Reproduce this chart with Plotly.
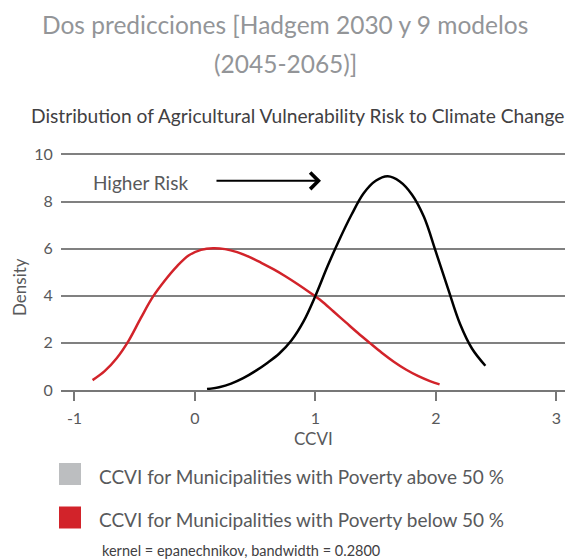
import plotly.graph_objects as go

# ---- data ----
red_x = [-0.85, -0.75, -0.65, -0.55, -0.45, -0.35, -0.25, -0.15, -0.05, 0.05, 0.15, 0.25, 0.35,
         0.45, 0.55, 0.65, 0.75, 0.85, 0.95, 1.05, 1.15, 1.25, 1.35, 1.45, 1.55, 1.65, 1.75,
         1.85, 1.95, 2.03]
red_y = [0.42, 0.8, 1.35, 2.1, 3.05, 3.95, 4.65, 5.25, 5.72, 5.95, 6.02, 5.98, 5.85,
         5.65, 5.4, 5.13, 4.83, 4.5, 4.15, 3.78, 3.33, 2.88, 2.43, 2.0, 1.58, 1.2, 0.87,
         0.6, 0.38, 0.24]

black_x = [0.1, 0.2, 0.3, 0.4, 0.5, 0.6, 0.7, 0.8, 0.9, 1.0, 1.1, 1.2, 1.3, 1.4, 1.5, 1.6,
           1.7, 1.8, 1.9, 2.0, 2.1, 2.2, 2.3, 2.41]
black_y = [0.04, 0.12, 0.27, 0.5, 0.8, 1.15, 1.55, 2.1, 2.9, 4.0, 5.25, 6.4, 7.45, 8.35, 8.88, 9.07,
           8.85, 8.3, 7.35, 5.85, 4.3, 2.8, 1.75, 1.03]

x_ticks = [-1, 0, 1, 2, 3]
x_tick_text = ["-1", "0", "1", "2", "3"]
y_ticks = [0, 2, 4, 6, 8, 10]

legend_labels = ["CCVI for Municipalities with Poverty above 50 %",
                 "CCVI for Municipalities with Poverty below 50 %"]
legend_colors = ["#bcbec0", "#d2232a"]

title_lines = ["Dos predicciones [Hadgem 2030 y 9 modelos", "(2045-2065)]"]
subtitle = "Distribution of Agricultural Vulnerability Risk to Climate Change"
note = "kernel = epanechnikov, bandwidth = 0.2800"

FONT = "Lato"
W, H = 567, 560
L, R, T, B = 61, 2, 153, 170
PW, PH = W - L - R, H - T - B


def px(x):
    return (x - L) / PW


def py(y):
    return (H - B - y) / PH


fig = go.Figure()
fig.add_trace(go.Scatter(x=red_x, y=red_y, mode="lines", line=dict(color="#d2232a", width=2.5, shape="spline"),
                         showlegend=False, hoverinfo="skip"))
fig.add_trace(go.Scatter(x=black_x, y=black_y, mode="lines", line=dict(color="#000000", width=2.5, shape="spline"),
                         showlegend=False, hoverinfo="skip"))

annotations = []
# titles
for txt, yc in zip(title_lines, [25, 63]):
    annotations.append(dict(text=txt, x=px(285), y=py(yc), xref="paper", yref="paper",
                            showarrow=False, xanchor="center", yanchor="middle",
                            font=dict(family=FONT, size=24.5, color="#939598")))
annotations.append(dict(text=subtitle, x=px(29), y=py(115), xref="paper", yref="paper",
                        showarrow=False, xanchor="left", yanchor="middle",
                        font=dict(family=FONT, size=19.2, color="#414042")))
# axis titles
annotations.append(dict(text="Density", x=px(19), y=py(287), xref="paper", yref="paper",
                        showarrow=False, xanchor="center", yanchor="middle", textangle=-90,
                        font=dict(family=FONT, size=17, color="#58595b")))
annotations.append(dict(text="CCVI", x=px(313), y=py(438), xref="paper", yref="paper",
                        showarrow=False, xanchor="center", yanchor="middle",
                        font=dict(family=FONT, size=17, color="#58595b")))
# Higher risk annotation + arrow
annotations.append(dict(text="Higher Risk", x=-0.452, y=8.8, xref="x", yref="y",
                        showarrow=False, xanchor="center", yanchor="middle",
                        font=dict(family=FONT, size=19, color="#58595b")))
annotations.append(dict(text="", x=1.046, y=8.88, ax=0.166, ay=8.88, xref="x", yref="y",
                        axref="x", ayref="y", showarrow=True, arrowhead=4, arrowwidth=2,
                        arrowsize=1.6, arrowcolor="#000000", standoff=0))
# legend
shapes = []
for i, (lab, col) in enumerate(zip(legend_labels, legend_colors)):
    yc = 474 + i * 43.5
    shapes.append(dict(type="rect", xref="paper", yref="paper", x0=px(59), x1=px(81),
                       y0=py(yc + 11), y1=py(yc - 11), fillcolor=col, line=dict(width=0)))
    annotations.append(dict(text=lab, x=px(97), y=py(yc + 2), xref="paper", yref="paper",
                            showarrow=False, xanchor="left", yanchor="middle",
                            font=dict(family=FONT, size=19, color="#58595b")))
annotations.append(dict(text=note, x=px(100), y=py(550), xref="paper", yref="paper",
                        showarrow=False, xanchor="left", yanchor="middle",
                        font=dict(family=FONT, size=14.5, color="#414042")))

fig.update_layout(
    width=W, height=H,
    margin=dict(l=L, r=R, t=T, b=B),
    paper_bgcolor="white", plot_bgcolor="white",
    showlegend=False,
    annotations=annotations,
    shapes=shapes,
    font=dict(family=FONT, color="#58595b"),
)
fig.update_xaxes(range=[-1.112, 3.071], tickvals=x_ticks, ticktext=x_tick_text, ticks="outside", ticklen=9,
                 tickcolor="#777777", tickwidth=1.5, showgrid=False, zeroline=False,
                 showline=True, linecolor="#777777", linewidth=1.5,
                 tickfont=dict(family=FONT, size=16, color="#58595b"), ticklabelstandoff=4)
fig.update_yaxes(range=[0, 10.06], tickvals=y_ticks, showgrid=True, gridcolor="#808080",
                 gridwidth=1.5, zeroline=False, showline=False, ticks="outside", ticklen=4,
                 tickcolor="rgba(0,0,0,0)",
                 tickfont=dict(family=FONT, size=16, color="#58595b"))

fig.write_html("out.html", config={"displayModeBar": False},
               post_script="document.body.style.margin='0';document.body.style.padding='0';")
